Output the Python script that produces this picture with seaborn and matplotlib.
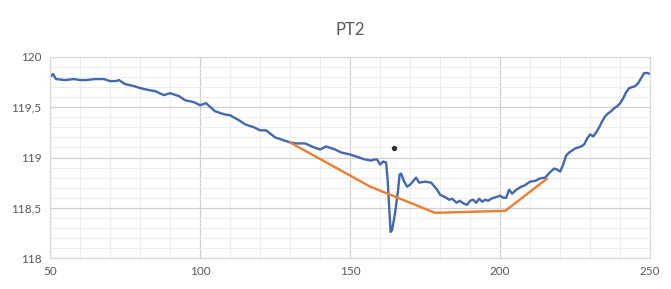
import matplotlib
matplotlib.use("Agg")
import matplotlib.pyplot as plt
import seaborn as sns
import pandas as pd
from matplotlib.ticker import MultipleLocator, FuncFormatter

# blue measured profile (x, elevation)
pt2_x = [50, 51, 52, 55, 58, 60, 62, 65, 68, 70, 72, 73, 75, 78, 80, 83, 85, 88,
         90, 93, 95, 98, 100, 102, 105, 108, 110, 113, 115, 118, 120, 122, 125,
         128, 130, 132, 135, 138, 140, 142, 145, 147, 150, 152, 155, 157, 158,
         159, 160, 161, 162, 162.5, 163, 163.5, 164, 165, 166, 166.5, 167, 168,
         169, 170, 172, 173, 175, 177,
         179, 180, 182, 183, 184, 185.5, 186.5, 188, 189, 190,
         191, 192, 193, 194, 195, 196, 197, 199, 200, 201,
         202, 203, 204, 205, 207, 208, 210, 212, 213, 215,
         216.5, 218, 219, 220, 221, 222, 223,
         225, 227, 228, 229, 230, 231, 232, 233, 234, 235, 236, 237,
         238, 239, 240, 241, 242, 243, 244, 245, 246, 247, 248, 249, 250]
pt2_y = [119.80, 119.83, 119.78, 119.77, 119.78, 119.77, 119.77, 119.78, 119.78,
         119.76, 119.76, 119.77, 119.73, 119.71, 119.69, 119.67, 119.66, 119.62,
         119.64, 119.61, 119.57, 119.55, 119.52, 119.54, 119.46, 119.43, 119.42,
         119.37, 119.33, 119.30, 119.27, 119.27, 119.20, 119.17, 119.15, 119.14,
         119.14, 119.10, 119.08, 119.11, 119.08, 119.05, 119.03, 119.01, 118.98,
         118.97, 118.98, 118.98, 118.93, 118.96, 118.95, 118.78, 118.51, 118.26,
         118.28, 118.45, 118.68, 118.83, 118.84, 118.76, 118.71, 118.73, 118.80,
         118.75, 118.76, 118.75,
         118.68, 118.63, 118.60, 118.58, 118.59, 118.55, 118.57, 118.54, 118.53, 118.57,
         118.58, 118.55, 118.59, 118.56, 118.58, 118.57, 118.59, 118.61, 118.62, 118.60,
         118.60, 118.68, 118.64, 118.67, 118.71, 118.72, 118.76, 118.77, 118.79, 118.80,
         118.85, 118.89, 118.88, 118.86, 118.93, 119.02, 119.05,
         119.09, 119.11, 119.13, 119.19, 119.23, 119.21, 119.25, 119.30, 119.36,
         119.41, 119.44, 119.46, 119.49, 119.51, 119.54, 119.59, 119.65, 119.69,
         119.70, 119.71, 119.74, 119.79, 119.84, 119.84, 119.83]

# orange design line
design_x = [130, 156.7, 178.3, 201.7, 215.6]
design_y = [119.15, 118.71, 118.45, 118.47, 118.79]

# single marker above the dip
mark_x = [164.7]
mark_y = [119.09]

x_ticks = [50, 100, 150, 200, 250]
y_ticks = [118, 118.5, 119, 119.5, 120]

sns.set_theme(style="white")
plt.rcParams['font.family'] = ['Lato', 'DejaVu Sans']

fig, ax = plt.subplots(figsize=(6.71, 2.89), dpi=100)
fig.subplots_adjust(left=0.0745, right=0.969, top=0.803, bottom=0.107)

profile = pd.DataFrame({'x': pt2_x, 'y': pt2_y})
design = pd.DataFrame({'x': design_x, 'y': design_y})

sns.lineplot(data=profile, x='x', y='y', ax=ax, color='#4468B0', lw=1.7)
sns.lineplot(data=design, x='x', y='y', ax=ax, color='#ED7D31', lw=1.7)
ax.scatter(mark_x, mark_y, s=8, color='#333333', zorder=5)

ax.set_xlim(50, 250)
ax.set_ylim(118, 120)
ax.set_xticks(x_ticks)
ax.set_yticks(y_ticks)
ax.xaxis.set_minor_locator(MultipleLocator(10))
ax.yaxis.set_minor_locator(MultipleLocator(0.1))
ax.yaxis.set_major_formatter(FuncFormatter(lambda v, p: f"{v:g}".replace('.', ',')))
ax.grid(which='major', color='#D0D0D0', lw=0.9)
ax.grid(which='minor', color='#EDEDED', lw=0.8)
ax.set_axisbelow(True)
ax.tick_params(which='both', length=0, labelsize=8.5, colors='#595959', pad=6)
for s in ax.spines.values():
    s.set_color('#D9D9D9')
    s.set_linewidth(0.9)
ax.set_xlabel('')
ax.set_ylabel('')
ax.set_title('PT2', fontsize=12, color='#595959', pad=16)

plt.savefig('out.png', dpi=100)
